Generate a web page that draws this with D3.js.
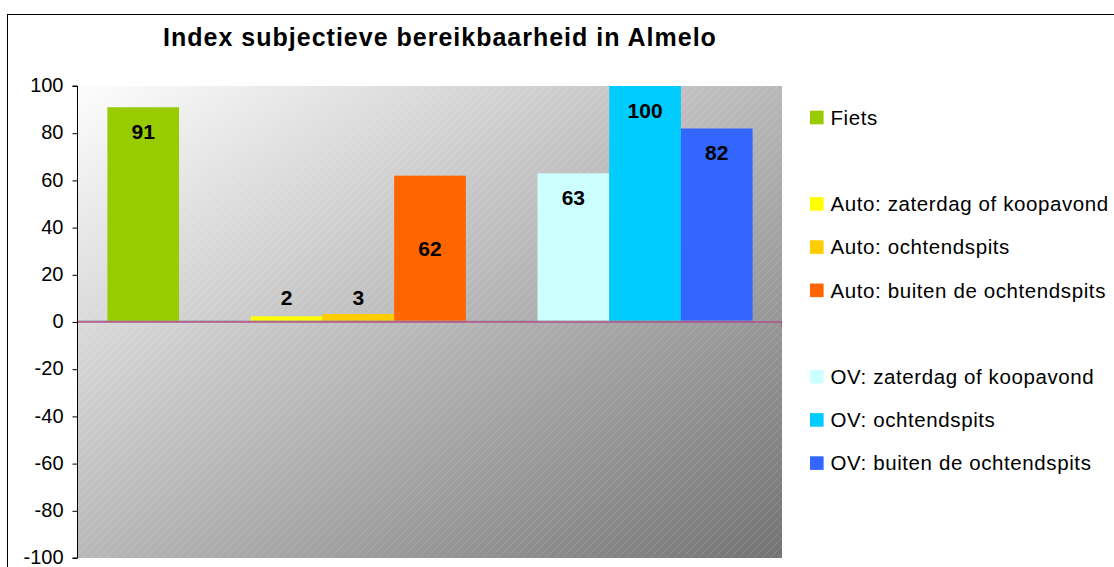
<!DOCTYPE html>
<html>
<head>
<meta charset="utf-8">
<script src="https://cdn.jsdelivr.net/npm/d3@7/dist/d3.min.js"></script>
<style>
  html, body { margin: 0; padding: 0; background: #fff; }
  svg { display: block; font-family: "Liberation Sans", Arial, sans-serif; }
</style>
</head>
<body>
<svg id="chart" width="1114" height="567"></svg>
<script>
// ---- data ----
const title = "Index subjectieve bereikbaarheid in Almelo";
// slots in order (null = empty spacer series, as in the original legend)
const seriesNames = [
  "Fiets", null,
  "Auto: zaterdag of koopavond", "Auto: ochtendspits", "Auto: buiten de ochtendspits", null,
  "OV: zaterdag of koopavond", "OV: ochtendspits", "OV: buiten de ochtendspits"
];
const seriesValues = [91, null, 2.4, 3.4, 62, null, 63, 100, 82];
const seriesColors = ["#99cc00", null, "#ffff00", "#ffcc00", "#ff6600", null, "#ccffff", "#00ccff", "#3366ff"];
const labelPlacement = ["top", null, "above", "above", "middle", null, "top", "top", "top"];
const yTicks = [-100, -80, -60, -40, -20, 0, 20, 40, 60, 80, 100];

// ---- layout ----
const svg = d3.select("#chart");
const plot = { left: 78, right: 782, top: 86, bottom: 558 };

const defs = svg.append("defs");
const grad = defs.append("linearGradient").attr("id", "bg")
  .attr("x1", 0).attr("y1", 0).attr("x2", 1).attr("y2", 1);
grad.append("stop").attr("offset", "0%").attr("stop-color", "#fdfdfd");
grad.append("stop").attr("offset", "100%").attr("stop-color", "#747474");

const pat = defs.append("pattern").attr("id", "hatch")
  .attr("patternUnits", "userSpaceOnUse").attr("width", 8).attr("height", 8);
pat.append("path").attr("d", "M-2,2 L2,-2 M0,8 L8,0 M6,10 L10,6")
  .attr("stroke", "#ffffff").attr("stroke-opacity", 0.22)
  .attr("stroke-width", 1).attr("stroke-dasharray", "1,1");

// chart area border
svg.append("rect").attr("x", 7.5).attr("y", 14.5).attr("width", 1130).attr("height", 580)
  .attr("fill", "#fff").attr("stroke", "#000").attr("stroke-width", 1);

// title
svg.append("text").attr("x", 440).attr("y", 46).attr("text-anchor", "middle")
  .attr("font-size", 25).attr("font-weight", "bold").attr("letter-spacing", 1)
  .attr("fill", "#000").text(title);

// scales
const x = d3.scaleBand().domain(d3.range(seriesNames.length))
  .range([plot.left, plot.right]).paddingInner(0).paddingOuter(0.41);
const y = d3.scaleLinear().domain([-100, 100]).range([plot.bottom, plot.top]);

// plot background
svg.append("rect").attr("x", plot.left).attr("y", plot.top)
  .attr("width", plot.right - plot.left).attr("height", plot.bottom - plot.top)
  .attr("fill", "url(#bg)");
svg.append("rect").attr("x", plot.left).attr("y", plot.top)
  .attr("width", plot.right - plot.left).attr("height", plot.bottom - plot.top)
  .attr("fill", "url(#hatch)");

// bars
const items = seriesNames.map((n, i) => ({ i, name: n, value: seriesValues[i], color: seriesColors[i], place: labelPlacement[i] }))
  .filter(d => d.name !== null);

svg.append("g").selectAll("rect").data(items).join("rect")
  .attr("x", d => x(d.i))
  .attr("width", x.bandwidth())
  .attr("y", d => y(Math.max(0, d.value)))
  .attr("height", d => Math.abs(y(d.value) - y(0)))
  .attr("fill", d => d.color);

// zero line
svg.append("line").attr("x1", plot.left).attr("x2", plot.right)
  .attr("y1", y(0) - 1).attr("y2", y(0) - 1).attr("stroke", "#9a9a9a").attr("stroke-width", 1);
svg.append("line").attr("x1", plot.left - 1).attr("x2", plot.right)
  .attr("y1", y(0)).attr("y2", y(0)).attr("stroke", "#b4508a").attr("stroke-width", 1.3);
svg.append("line").attr("x1", plot.right - 0.5).attr("x2", plot.right - 0.5)
  .attr("y1", y(0)).attr("y2", y(0) + 5).attr("stroke", "#b4508a").attr("stroke-width", 1);

// data labels
svg.append("g").selectAll("text").data(items).join("text")
  .attr("x", d => x(d.i) + x.bandwidth() / 2)
  .attr("y", d => {
    if (d.place === "above") return y(0) - 25;
    if (d.place === "middle") return (y(d.value) + y(0)) / 2;
    return y(d.value) + 24;
  })
  .attr("dy", "0.36em")
  .attr("text-anchor", "middle").attr("font-size", 21).attr("font-weight", "bold")
  .attr("fill", "#000").text(d => Math.round(d.value));

// y axis
const yAxis = d3.axisLeft(y).tickValues(yTicks).tickSize(5).tickPadding(9).tickFormat(d => String(d));
const ga = svg.append("g").attr("transform", `translate(${plot.left - 0.5},0)`).call(yAxis);
ga.select(".domain").attr("stroke", "#000").attr("d", `M-5,${y(100)}H0V${y(-100)}H-5`);
ga.selectAll(".tick line").attr("stroke", "#000");
ga.selectAll(".tick text").attr("font-size", 20).attr("fill", "#000")
  .attr("font-family", "'Liberation Sans', Arial, sans-serif").attr("dy", "0.28em");

// legend
const lg = svg.append("g");
const legendTop = 117.5, legendStep = 43.2;
const legItems = seriesNames.map((n, i) => ({ i, name: n, color: seriesColors[i] })).filter(d => d.name !== null);
const row = lg.selectAll("g").data(legItems).join("g")
  .attr("transform", d => `translate(810,${legendTop + d.i * legendStep})`);
row.append("rect").attr("x", 0).attr("y", -6.8).attr("width", 13.6).attr("height", 13.6).attr("fill", d => d.color);
row.append("text").attr("x", 20.5).attr("y", 0).attr("dy", "0.36em")
  .attr("font-size", 20.5).attr("letter-spacing", 0.6).attr("fill", "#000").text(d => d.name);
</script>
</body>
</html>
